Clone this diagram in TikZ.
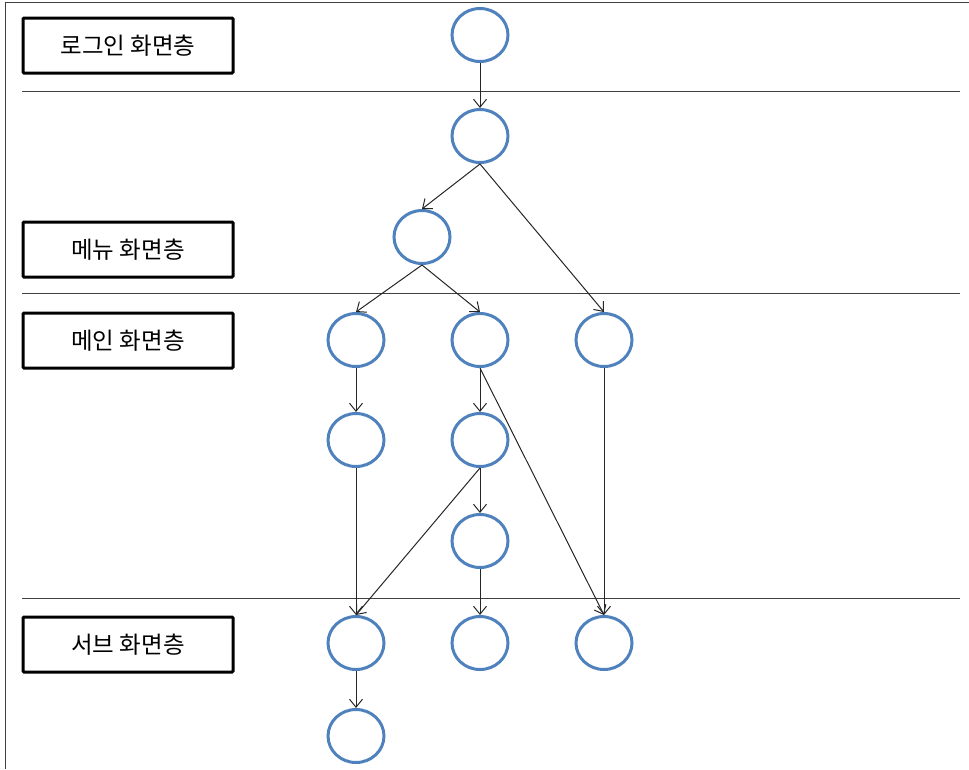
\documentclass[tikz,border=0pt]{standalone}
\usepackage{fontspec}
\newfontfamily\kr{Noto Sans CJK KR}
\usetikzlibrary{arrows.meta,shapes.geometric}
\definecolor{cblue}{HTML}{4F81BD}
\begin{document}
\begin{tikzpicture}[x=1pt,y=-1pt,
  st/.style={draw=cblue,line width=3pt,ellipse,minimum width=56pt,minimum height=53pt,inner sep=0pt},
  lbl/.style={draw=black,line width=3pt,rounded corners=1pt,minimum width=210pt,minimum height=55pt,inner sep=0pt,font=\kr\fontsize{23.5}{26}\selectfont,anchor=north west},
  sep/.style={draw=black!75,line width=1pt},
  arr/.style={draw=black!85,line width=1pt,-{Straight Barb[length=8pt,width=13pt,line width=1pt]}}]
\useasboundingbox (0,0) rectangle (969,769);
% frame
\draw[sep] (5,769) -- (5,2) -- (969,2);
\draw[sep] (22,91) -- (960,91);
\draw[sep] (22,293) -- (960,293);
\draw[sep] (22,598) -- (960,598);
% labels
\node[lbl] (L1) at (21.5,16.5) {로그인 화면층};
\node[lbl] (L2) at (21.5,220.5) {메뉴 화면층};
\node[lbl] (L3) at (21.5,311.5) {메인 화면층};
\node[lbl] (L4) at (21.5,615.5) {서브 화면층};
% states
\node[st] (c1) at (480,35) {};
\node[st] (c2) at (480,136) {};
\node[st] (c3) at (422,237) {};
\node[st] (m1) at (356,340) {};
\node[st] (m2) at (480,340) {};
\node[st] (m3) at (604,340) {};
\node[st] (r1) at (356,440) {};
\node[st] (r2) at (480,440) {};
\node[st] (t) at (480,541) {};
\node[st] (s1) at (356,643) {};
\node[st] (s2) at (480,643) {};
\node[st] (s3) at (604,643) {};
\node[st] (u) at (356,736) {};
% edges
\draw[arr] (c1.south) -- (c2.north);
\draw[arr] (c2.south) -- (c3.north);
\draw[arr] (c2.south) -- (m3.north);
\draw[arr] (c3.south) -- (m1.north);
\draw[arr] (c3.south) -- (m2.north);
\draw[arr] (m1.south) -- (r1.north);
\draw[arr] (m2.south) -- (r2.north);
\draw[arr] (m2.south) -- (s3.north);
\draw[arr] (m3.south) -- (s3.north);
\draw[arr] (r1.south) -- (s1.north);
\draw[arr] (r2.south) -- (s1.north);
\draw[arr] (r2.south) -- (t.north);
\draw[arr] (t.south) -- (s2.north);
\draw[arr] (s1.south) -- (u.north);
\end{tikzpicture}
\end{document}
